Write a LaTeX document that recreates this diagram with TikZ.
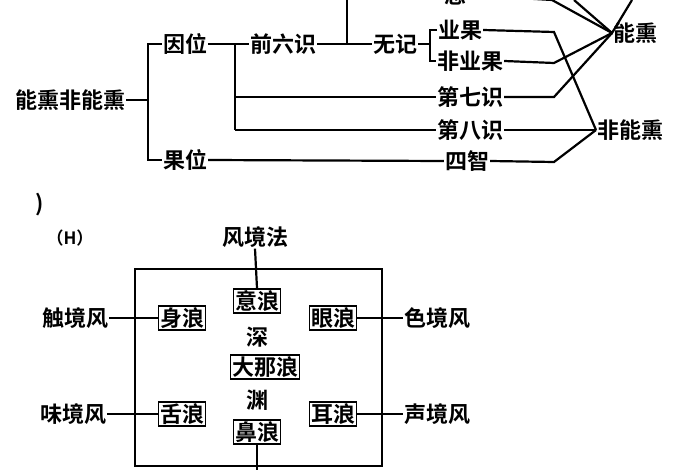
\documentclass[tikz,border=0pt]{standalone}
\usepackage{fontspec}
\setmainfont{Noto Sans CJK SC}[BoldFont={* Bold}]
\usetikzlibrary{positioning}
\tikzset{
  txt/.style={inner sep=1pt, font=\bfseries\fontsize{22}{22}\selectfont},
  wave/.style={txt, draw, line width=1.4pt, inner sep=1.5pt},
  ln/.style={line width=2.2pt}
}
\begin{document}
\begin{tikzpicture}[x=1pt, y=-1pt]
  \useasboundingbox[fill=white] (0,0) rectangle (700,470);
  \clip (0,0) rectangle (700,470);
  % top tree
  \node[txt] (root) at (70,100) {能熏非能熏};
  \node[txt] (yin) at (185,44) {因位};
  \node[txt] (guo) at (185,160) {果位};
  \node[txt] (qian) at (283,44) {前六识};
  \node[txt] (wuji) at (395,44) {无记};
  \node[txt] (e) at (455,-5) {恶};
  \node[txt] (yeguo) at (460,30) {业果};
  \node[txt] (feiye) at (470,61) {非业果};
  \node[txt] (qi) at (470,97) {第七识};
  \node[txt] (ba) at (470,130) {第八识};
  \node[txt] (zhi) at (467,161) {四智};
  \node[txt, anchor=west] (neng) at (612,33) {能熏};
  \node[txt, anchor=west] (fei) at (596,130) {非能熏};
  \coordinate (nj) at (612,33);
  \coordinate (fj) at (596,130);

  \draw[ln] (root.east) -- (148,100);
  \draw[ln] (yin.west) -- (148,44) -- (148,160) -- (guo.west);
  \draw[ln] (yin.east) -- (qian.west);
  \draw[ln] (235,44) -- (235,130);
  \draw[ln] (235,97) -- (qi.west);
  \draw[ln] (235,130) -- (ba.west);
  \draw[ln] (guo.east) -- (zhi.west);
  \draw[ln] (qian.east) -- (wuji.west);
  \draw[ln] (347,44) -- (347,0);
  \draw[ln] (wuji.east) -- (430,44);
  \draw[ln] (yeguo.west) -- (430,30) -- (430,61) -- (feiye.west);
  % right links
  \draw[ln] (e.east) -- (552,0) -- (nj);
  \draw[ln] (574,0) -- (nj) -- (632,0);
  \draw[ln] (yeguo.east) -- (554,32) -- (fj);
  \draw[ln] (feiye.east) -- (554,63) -- (nj);
  \draw[ln] (qi.east) -- (554,97) -- (nj);
  \draw[ln] (ba.east) -- (fj);
  \draw[ln] (zhi.east) -- (554,162) -- (fj);

  % bottom part
  \node[txt] (paren) at (40,205) {)};
  \node[txt, font=\bfseries\fontsize{17}{17}\selectfont] (tag) at (70,238) {（H）};
  \node[txt] (fa) at (255,237) {风境法};
  \draw[line width=1.8pt] (135,269) rectangle (382,466);
  \node[wave] (yi) at (257,301) {意浪};
  \node[wave] (shen) at (182,318) {身浪};
  \node[wave] (yan) at (333,318) {眼浪};
  \node[txt] (sheng) at (257,337) {深};
  \node[wave] (dana) at (265,367) {大那浪};
  \node[txt] (yuan) at (257,400) {渊};
  \node[wave] (she) at (182,414) {舌浪};
  \node[wave] (er) at (333,414) {耳浪};
  \node[wave] (bi) at (257,432) {鼻浪};
  \node[txt] (chu) at (75,318) {触境风};
  \node[txt] (se) at (437,318) {色境风};
  \node[txt] (wei) at (73,414) {味境风};
  \node[txt] (shengj) at (437,414) {声境风};
  \coordinate (bot) at (257,470);

  \draw[ln] (fa.south) -- (yi.north);
  \draw[ln] (bi.south) -- (bot);
  \draw[ln] (chu.east) -- (shen.west);
  \draw[ln] (se.west) -- (yan.east);
  \draw[ln] (wei.east) -- (she.west);
  \draw[ln] (shengj.west) -- (er.east);
\end{tikzpicture}
\end{document}
